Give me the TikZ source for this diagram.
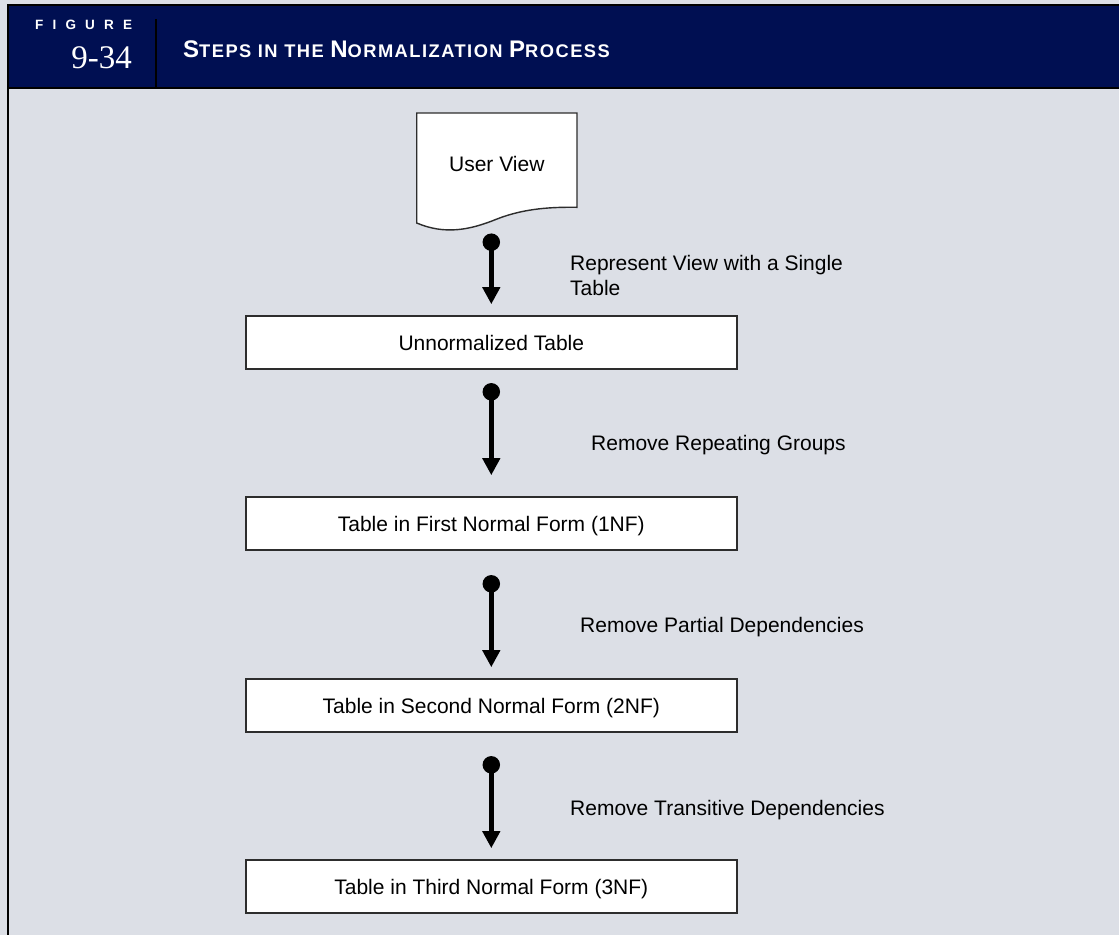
\documentclass[tikz,border=0pt]{standalone}
\usepackage{fontspec}
\setmainfont{Liberation Sans}
\newfontfamily\numfont{Liberation Serif}
\newfontfamily\tagfont[LetterSpace=68]{Liberation Sans}
\newfontfamily\capfont[LetterSpace=8]{Liberation Sans}
\usepackage{xcolor}
\usepackage{tikz}
\usetikzlibrary{arrows.meta}

\definecolor{pagegray}{RGB}{220,223,230}
\definecolor{headnavy}{RGB}{0,15,82}
\definecolor{edgegray}{RGB}{45,45,45}

\newcommand{\capword}[2]{{\fontsize{24}{24}\selectfont #1}{\fontsize{18.3}{18.3}\selectfont #2}}

\tikzset{
  stepbox/.style={draw=edgegray, line width=1.6pt, fill=white, minimum width=491pt,
    minimum height=53pt, inner sep=0pt, text height=15.2pt, text depth=0pt,
    font=\fontsize{21}{25}\selectfont},
  docshape/.style={draw=edgegray, line width=1.4pt, fill=white},
  link/.style={line width=5pt, {Circle[length=17.4pt]}-{Triangle[length=17pt,width=17pt]}},
  steplabel/.style={font=\fontsize{21}{25.5}\selectfont, inner sep=0pt, align=left},
}

\begin{document}
\begin{tikzpicture}[x=1pt, y=-1pt]
  \useasboundingbox (0,0) rectangle (1119,935);
  \fill[pagegray] (0,0) rectangle (1119,935);

  % header band
  \fill[headnavy] (8,5) rectangle (1119,88);
  \draw[line width=2pt] (7,5) -- (1119,5);
  \draw[line width=2.4pt] (7,88) -- (1119,88);
  \draw[line width=2.4pt] (8,4) -- (8,935);
  \draw[line width=2.4pt] (156,19) -- (156,88);
  \node[anchor=base west, inner sep=0pt, text=white,
    font=\tagfont\bfseries\fontsize{13.5}{13.5}\selectfont] (figtag) at (35,29) {FIGURE};
  \node[anchor=base east, inner sep=0pt, text=white,
    font=\numfont\fontsize{33}{33}\selectfont] (fignum) at (132,68) {9-34};
  \node[anchor=base west, inner sep=0pt, text=white,
    font=\capfont\bfseries\fontsize{18.3}{18.3}\selectfont] (figtitle) at (183,57)
    {\capword{S}{TEPS} \capword{}{IN} \capword{}{THE} \capword{N}{ORMALIZATION} \capword{P}{ROCESS}};

  % user view document
  \draw[docshape] (416.7,113) -- (577,113) -- (577,207.3)
    .. controls (553,207) and (525,208) .. (497,219)
    .. controls (470,230) and (445,235) .. (416.7,223) -- cycle;
  \node[minimum width=160pt, minimum height=101pt, font=\fontsize{21}{25}\selectfont] (uv) at (496.8,163.5) {User View};

  % tables
  \node[stepbox] (t0) at (491.3,342.5) {Unnormalized Table};
  \node[stepbox] (t1) at (491.3,523.5) {Table in First Normal Form (1NF)};
  \node[stepbox] (t2) at (491.3,705.5) {Table in Second Normal Form (2NF)};
  \node[stepbox] (t3) at (491.3,886.5) {Table in Third Normal Form (3NF)};

  % steps
  \draw[link, shorten <=19.3pt, shorten >=11pt] (t0.north |- uv.south) -- (t0.north);
  \draw[link, shorten <=13.3pt, shorten >=21pt] (t0.south) -- (t1.north);
  \draw[link, shorten <=24.3pt, shorten >=11pt] (t1.south) -- (t2.north);
  \draw[link, shorten <=23.3pt, shorten >=11pt] (t2.south) -- (t3.north);

  \node[steplabel, anchor=north west] (s0) at (570,255) {Represent View with a Single\\Table};
  \node[steplabel, anchor=base west] (s1) at (591,450.5) {Remove Repeating Groups};
  \node[steplabel, anchor=base west] (s2) at (580,632.5) {Remove Partial Dependencies};
  \node[steplabel, anchor=base west] (s3) at (570,815) {Remove Transitive Dependencies};
\end{tikzpicture}
\end{document}
